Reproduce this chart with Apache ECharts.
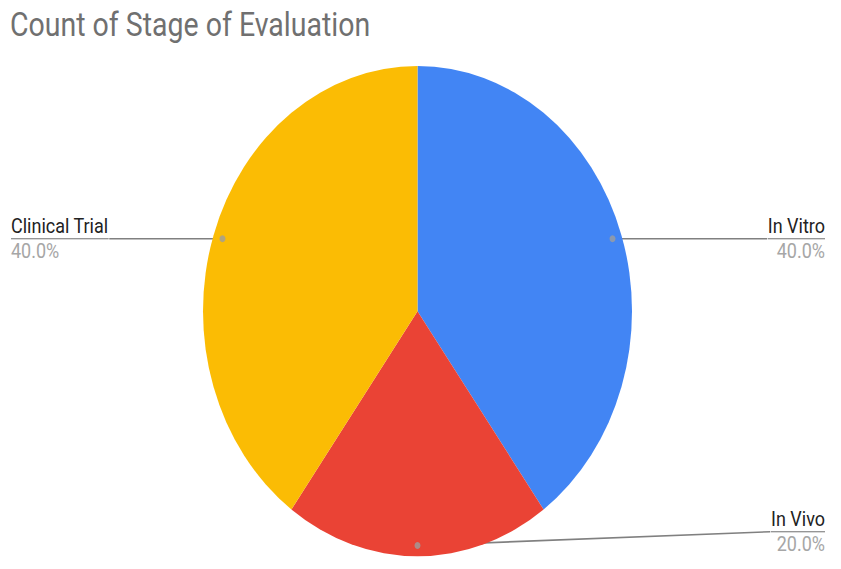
<!DOCTYPE html>
<html>
<head>
<meta charset="utf-8">
<script src="https://cdn.jsdelivr.net/npm/echarts@6/dist/echarts.min.js"></script>
<style>
html, body { margin: 0; padding: 0; background: #fff; }
body { width: 841px; height: 569px; overflow: visible; }
/* the reference is stretched vertically, so draw flat and stretch */
#chart { width: 841px; height: 498px; transform: scaleY(1.1426); transform-origin: 0 0; }
</style>
</head>
<body>
<div id="chart"></div>
<script>
var categories = ['In Vitro', 'In Vivo', 'Clinical Trial'];
var counts = [2, 1, 2];
var colors = ['#4285f4', '#ea4335', '#fbbc04'];

var center = [417.5, 272.3];
var radius = 214.5;
var dotRadius = 0.956;

var total = counts.reduce(function (a, b) { return a + b; }, 0);
var acc = 0;
var dots = [];
var mids = [];
counts.forEach(function (c) {
    var mid = acc + c / 2;
    dots.push([dotRadius, mid]);
    mids.push(mid / total);
    acc += c;
});

var pieData = categories.map(function (name, i) {
    return { name: name, value: counts[i], itemStyle: { color: colors[i] } };
});
var labelData = categories.map(function (name, i) {
    var left = mids[i] > 0.5;
    // label at the bottom sits a bit above its dot
    var nearBottom = Math.abs(mids[i] - 0.5) < 0.1;
    return {
        name: name,
        value: counts[i],
        itemStyle: { color: 'rgba(0,0,0,0)' },
        label: { edgeDistance: left ? 11 : 16 },
        labelLine: { length: nearBottom ? -12 : 0 }
    };
});

var myChart = echarts.init(document.getElementById('chart'), null, { renderer: 'svg' });
myChart.setOption({
    animation: false,
    title: {
        text: 'Count of Stage of Evaluation',
        left: 10,
        top: 7,
        padding: 0,
        textStyle: {
            fontFamily: 'Roboto',
            fontSize: 28.5,
            fontWeight: 'normal',
            color: '#707070'
        }
    },
    polar: { center: center, radius: radius },
    angleAxis: { type: 'value', min: 0, max: total, startAngle: 90, clockwise: true, show: false },
    radiusAxis: { type: 'value', min: 0, max: 1, show: false },
    series: [
        {
            name: 'Count',
            type: 'pie',
            center: center,
            radius: radius,
            startAngle: 90,
            silent: true,
            label: { show: false },
            labelLine: { show: false },
            data: pieData
        },
        {
            name: 'Labels',
            type: 'pie',
            center: center,
            radius: radius * dotRadius,
            startAngle: 90,
            silent: true,
            label: {
                show: true,
                position: 'outside',
                alignTo: 'edge',
                distanceToLabelLine: 0,
                formatter: function (p) {
                    return '{name|' + p.name + '}\n{hr|}\n{pct|' + p.percent.toFixed(1) + '%}';
                },
                rich: {
                    name: { fontFamily: 'Roboto', fontSize: 18, color: '#222222', lineHeight: 22 },
                    hr: { width: '100%', height: 0, borderWidth: 0.7, borderColor: '#808080' },
                    pct: { fontFamily: 'Roboto', fontSize: 18, color: '#a6a6a6', lineHeight: 22 }
                }
            },
            labelLine: {
                show: true,
                length: 0,
                length2: 20,
                lineStyle: { color: '#808080', width: 1.4 }
            },
            data: labelData
        },
        {
            name: 'Dots',
            type: 'scatter',
            coordinateSystem: 'polar',
            symbolSize: 6,
            silent: true,
            itemStyle: { color: '#9e9e9e' },
            z: 5,
            data: dots
        }
    ]
});
</script>
</body>
</html>
